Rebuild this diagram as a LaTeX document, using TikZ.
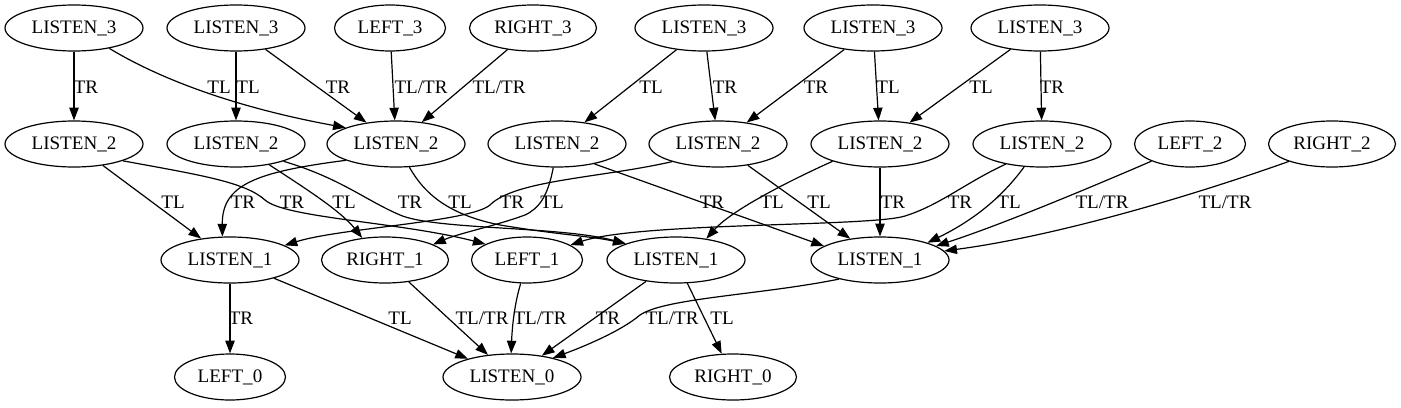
\documentclass[tikz,border=0pt]{standalone}
\usepackage{fontspec}
\setmainfont{Liberation Serif}
\usetikzlibrary{shapes.geometric,arrows.meta}
\begin{document}
\begin{tikzpicture}[x=0.75pt,y=-0.75pt,
  st/.style={ellipse,draw,line width=0.9pt,inner sep=1pt,minimum height=34.5pt,font=\fontsize{14.3pt}{16pt}\selectfont},
  lsn/.style={st,minimum width=103.5pt},
  lft/.style={st,minimum width=83.25pt},
  rgt/.style={st,minimum width=95.25pt},
  conn/.style={line width=0.9pt,-{Triangle[length=9.5pt,width=7pt]}},
  lab/.style={inner sep=0pt,text height=9.3pt,text depth=0pt,font=\fontsize{14.3pt}{16pt}\selectfont}]
\useasboundingbox (0,0) rectangle (1401,407);
% row 3
\node[lsn] (a3) at (74,28) {LISTEN\_3};
\node[lsn] (b3) at (236,28) {LISTEN\_3};
\node[lft] (left3) at (390,28) {LEFT\_3};
\node[rgt] (right3) at (533,28) {RIGHT\_3};
\node[lsn] (c3) at (704,28) {LISTEN\_3};
\node[lsn] (d3) at (873,28) {LISTEN\_3};
\node[lsn] (e3) at (1040,28) {LISTEN\_3};
% row 2
\node[lsn] (a2) at (74,144) {LISTEN\_2};
\node[lsn] (b2) at (236,144) {LISTEN\_2};
\node[lsn] (c2) at (396,144) {LISTEN\_2};
\node[lsn] (d2) at (557,144) {LISTEN\_2};
\node[lsn] (e2) at (718,144) {LISTEN\_2};
\node[lsn] (f2) at (880,144) {LISTEN\_2};
\node[lsn] (g2) at (1042,144) {LISTEN\_2};
\node[lft] (left2) at (1190,144) {LEFT\_2};
\node[rgt] (right2) at (1332,144) {RIGHT\_2};
% row 1
\node[lsn] (l1a) at (230,260) {LISTEN\_1};
\node[rgt] (right1) at (385,260) {RIGHT\_1};
\node[lft] (left1) at (527,260) {LEFT\_1};
\node[lsn] (l1b) at (676,260) {LISTEN\_1};
\node[lsn] (l1c) at (880,260) {LISTEN\_1};
% row 0
\node[lft] (left0) at (230,377) {LEFT\_0};
\node[lsn] (listen0) at (512,377) {LISTEN\_0};
\node[rgt] (right0) at (733,377) {RIGHT\_0};
% edges row 3 -> row 2
\draw[conn] (a3) -- (a2);
\draw[conn] (a3.-30) .. controls (175,88) and (260,112) .. (c2.162);
\draw[conn] (b3) -- (b2);
\draw[conn] (b3) -- (c2);
\draw[conn] (left3) -- (c2);
\draw[conn] (right3) -- (c2);
\draw[conn] (c3) -- (d2);
\draw[conn] (c3) -- (e2);
\draw[conn] (d3) -- (e2);
\draw[conn] (d3) -- (f2);
\draw[conn] (e3) -- (f2);
\draw[conn] (e3) -- (g2);
% edges row 2 -> row 1
\draw[conn] (a2) -- (l1a);
\draw[conn] (a2.-19) .. controls (200,175) and (245,182) .. (265,200) .. controls (285,218) and (400,222) .. (left1.159);
\draw[conn] (c2.-162) .. controls (255,172) and (222,185) .. (l1a.108);
\draw[conn] (b2.-32) .. controls (300,185) and (340,210) .. (right1.136);
\draw[conn] (b2.-20) .. controls (340,178) and (365,200) .. (400,215) .. controls (435,230) and (560,226) .. (l1b.162);
\draw[conn] (c2.-60) .. controls (425,195) and (450,215) .. (500,225) .. controls (560,235) and (590,236) .. (l1b.162);
\draw[conn] (d2.-99) .. controls (548,195) and (540,208) .. (525,215) .. controls (495,226) and (460,233) .. (right1.18);
\draw[conn] (d2.-28) -- (l1c.166);
\draw[conn] (e2.-159) .. controls (600,178) and (515,180) .. (490,205) .. controls (470,222) and (340,228) .. (l1a.15);
\draw[conn] (e2) -- (l1c);
\draw[conn] (f2.-160) .. controls (780,185) and (730,212) .. (l1b.35);
\draw[conn] (f2) -- (l1c);
\draw[conn] (g2.-151) .. controls (965,183) and (940,205) .. (905,216) .. controls (870,227) and (640,222) .. (left1.19);
\draw[conn] (g2.-128) .. controls (1000,200) and (970,222) .. (l1c.20);
\draw[conn] (left2.-156) .. controls (1080,192) and (1000,225) .. (l1c.14);
\draw[conn] (right2.-158) .. controls (1180,200) and (1050,237) .. (l1c.8);
% edges row 1 -> row 0
\draw[conn] (l1a) -- (left0);
\draw[conn] (l1a) -- (listen0);
\draw[conn] (right1) -- (listen0);
\draw[conn] (left1.-105) .. controls (514,305) and (512,330) .. (listen0.92);
\draw[conn] (l1b) -- (listen0);
\draw[conn] (l1b) -- (right0);
\draw[conn] (l1c.-155) .. controls (760,295) and (665,298) .. (640,315) .. controls (620,332) and (580,348) .. (listen0.25);
% labels row 3 -> 2
\node[lab] (t1) at (86,87) {TR};
\node[lab] (t2) at (219,87) {TL};
\node[lab] (t3) at (248,87) {TL};
\node[lab] (t4) at (338,87) {TR};
\node[lab] (t5) at (421,87) {TL/TR};
\node[lab] (t6) at (499,87) {TL/TR};
\node[lab] (t7) at (651,87) {TL};
\node[lab] (t8) at (725,87) {TR};
\node[lab] (t9) at (816,87) {TR};
\node[lab] (t10) at (888,87) {TL};
\node[lab] (t11) at (981,87) {TL};
\node[lab] (t12) at (1052,87) {TR};
% labels row 2 -> 1
\node[lab] (u1) at (173,202) {TL};
\node[lab] (u2) at (243,202) {TR};
\node[lab] (u3) at (292,202) {TR};
\node[lab] (u4) at (344,202) {TL};
\node[lab] (u5) at (410,202) {TR};
\node[lab] (u6) at (460,202) {TL};
\node[lab] (u7) at (512,202) {TR};
\node[lab] (u8) at (552,202) {TL};
\node[lab] (u9) at (712,202) {TR};
\node[lab] (u10) at (772,202) {TL};
\node[lab] (u11) at (819,202) {TL};
\node[lab] (u12) at (893,202) {TR};
\node[lab] (u13) at (960,202) {TR};
\node[lab] (u14) at (1009,202) {TL};
\node[lab] (u15) at (1102,202) {TL/TR};
\node[lab] (u16) at (1225,202) {TL/TR};
% labels row 1 -> 0
\node[lab] (v1) at (241,318) {TR};
\node[lab] (v2) at (400,318) {TL};
\node[lab] (v3) at (482,318) {TL/TR};
\node[lab] (v4) at (540,318) {TL/TR};
\node[lab] (v5) at (608,318) {TR};
\node[lab] (v6) at (672,318) {TL/TR};
\node[lab] (v7) at (722,318) {TL};
\end{tikzpicture}
\end{document}
